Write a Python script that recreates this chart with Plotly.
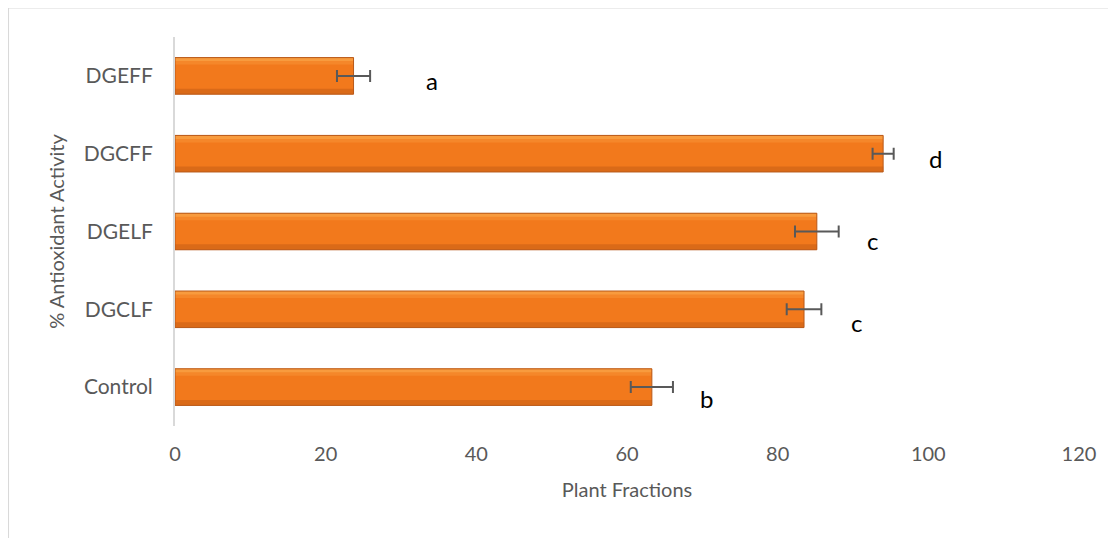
import plotly.graph_objects as go

categories = ["Control", "DGCLF", "DGELF", "DGCFF", "DGEFF"]
values = [63.3, 83.5, 85.2, 94.0, 23.7]
errors = [2.8, 2.3, 2.9, 1.4, 2.2]
letters = ["b", "c", "c", "d", "a"]
letter_x = [70.6, 90.5, 92.6, 101.0, 34.1]
letter_shift = [-11, -13, -9, -5, -5]
x_ticks = [0, 20, 40, 60, 80, 100, 120]

FONT = "Lato, Open Sans, sans-serif"
BW = 0.47

fig = go.Figure()
# main bar body
fig.add_trace(go.Bar(
    y=categories, x=values, orientation="h",
    width=BW,
    marker=dict(color="#F2791C", line=dict(width=0)),
    showlegend=False,
))
# top highlight strips (soft gradient)
fig.add_trace(go.Bar(
    y=categories, x=values, orientation="h",
    width=0.09, offset=BW / 2 - 0.09,
    marker=dict(color="#F5872A", line=dict(width=0)),
    showlegend=False, hoverinfo="skip",
))
fig.add_trace(go.Bar(
    y=categories, x=values, orientation="h",
    width=0.045, offset=BW / 2 - 0.045,
    marker=dict(color="#F89B3E", line=dict(width=0)),
    showlegend=False, hoverinfo="skip",
))
# bottom darker edge
fig.add_trace(go.Bar(
    y=categories, x=values, orientation="h",
    width=0.07, offset=-BW / 2,
    marker=dict(color="#DA6A18", line=dict(width=0)),
    showlegend=False, hoverinfo="skip",
))
# outline + error bars
fig.add_trace(go.Bar(
    y=categories, x=values, orientation="h",
    width=BW,
    marker=dict(color="rgba(0,0,0,0)", line=dict(color="#B8591A", width=1)),
    error_x=dict(type="data", array=errors, visible=True, color="#595959", thickness=2, width=6),
    showlegend=False, hoverinfo="skip",
))

annotations = []
for cat, lx, lt, ys in zip(categories, letter_x, letters, letter_shift):
    annotations.append(dict(x=lx, y=cat, text=lt, showarrow=False, yshift=ys,
                            font=dict(family=FONT, size=24, color="black")))

W, H = 1108, 530
L, T = 167, 28.5
PW, PH = 904, 390
fig.update_layout(
    width=W, height=H,
    margin=dict(l=L, r=W - L - PW, t=T, b=H - T - PH),
    paper_bgcolor="white", plot_bgcolor="white",
    barmode="overlay",
    font=dict(family=FONT, color="#595959", size=20),
    xaxis=dict(range=[0, 120], tickvals=x_ticks, showgrid=False, zeroline=False, showline=False,
               ticks="", ticklabelstandoff=14, tickfont=dict(size=20, color="#595959"),
               title=dict(text="Plant Fractions", font=dict(size=20, color="#595959"), standoff=18)),
    yaxis=dict(categoryorder="array", categoryarray=categories, showgrid=False, zeroline=False,
               showline=True, linecolor="#D9D9D9", linewidth=2, ticks="", ticklen=0,
               ticklabelstandoff=16, tickfont=dict(size=21, color="#595959"),
               title=dict(text="% Antioxidant Activity", font=dict(size=20, color="#595959"), standoff=14)),
    annotations=annotations,
    shapes=[
        dict(type="line", xref="paper", yref="paper", x0=-0.1847, x1=1.05, y0=1.0756, y1=1.0756,
             line=dict(color="#D9D9D9", width=2)),
        dict(type="line", xref="paper", yref="paper", x0=-0.1847, x1=-0.1847, y0=1.0756, y1=-0.3,
             line=dict(color="#D9D9D9", width=2)),
    ],
)

fig.write_html("out.html")
